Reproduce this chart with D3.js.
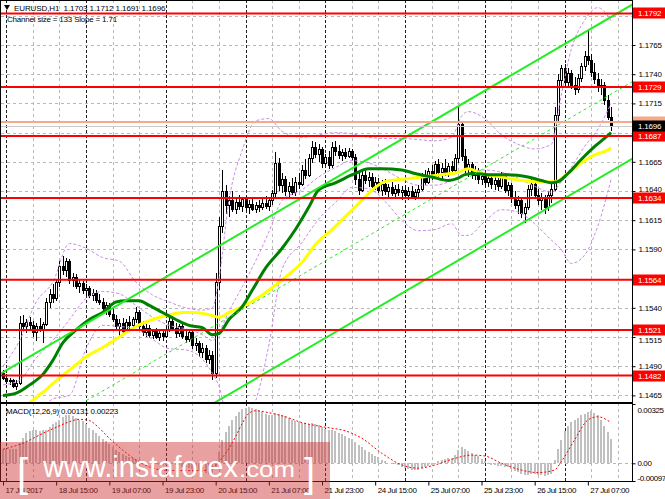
<!DOCTYPE html>
<html><head><meta charset="utf-8">
<script src="https://cdn.jsdelivr.net/npm/d3@7/dist/d3.min.js"></script>
<style>
html,body{margin:0;padding:0;background:#fff;}
svg{display:block;font-family:"Liberation Sans",Arial,sans-serif;}
</style></head><body>
<svg id="chart" width="665" height="499"></svg>
<script>
// ---------- DATA ----------
const symbolTitle = "EURUSD,H1  1.1703 1.1712 1.1691 1.1696";
const channelTitle = "Channel size = 133 Slope = 1.71";
const macdTitle = "MACD(12,26,9) 0.00131 0.00223";

// hourly candles [open, high, low, close], first bar = 17 Jul 23:00
const ohlc = [
[1.1484,1.1487,1.1478,1.1480],[1.1480,1.1483,1.1475,1.1477],[1.1477,1.1480,1.1474,1.1478],[1.1478,1.1479,1.1471,1.1473],
[1.1473,1.1478,1.1470,1.1476],[1.1476,1.1533,1.1474,1.1527],[1.1527,1.1534,1.1520,1.1524],[1.1524,1.1530,1.1518,1.1528],
[1.1528,1.1532,1.1522,1.1525],[1.1525,1.1529,1.1515,1.1519],[1.1519,1.1527,1.1512,1.1524],[1.1524,1.1531,1.1519,1.1522],
[1.1522,1.1528,1.1510,1.1526],[1.1526,1.1548,1.1524,1.1545],[1.1545,1.1556,1.1540,1.1552],[1.1552,1.1560,1.1544,1.1548],
[1.1548,1.1565,1.1546,1.1562],[1.1562,1.1580,1.1558,1.1576],[1.1576,1.1584,1.1568,1.1572],[1.1572,1.1583,1.1566,1.1580],
[1.1580,1.1582,1.1560,1.1564],[1.1564,1.1570,1.1558,1.1566],[1.1566,1.1569,1.1556,1.1559],[1.1559,1.1564,1.1553,1.1561],
[1.1561,1.1563,1.1552,1.1555],[1.1555,1.1560,1.1550,1.1557],[1.1557,1.1559,1.1548,1.1551],[1.1551,1.1556,1.1546,1.1553],
[1.1553,1.1555,1.1544,1.1547],[1.1547,1.1552,1.1542,1.1545],[1.1545,1.1548,1.1536,1.1540],[1.1540,1.1545,1.1534,1.1542],
[1.1542,1.1544,1.1532,1.1535],[1.1535,1.1540,1.1528,1.1530],[1.1530,1.1534,1.1520,1.1524],[1.1524,1.1530,1.1516,1.1527],
[1.1527,1.1531,1.1517,1.1520],[1.1520,1.1530,1.1518,1.1528],[1.1528,1.1533,1.1522,1.1525],[1.1525,1.1532,1.1521,1.1530],
[1.1530,1.1541,1.1527,1.1536],[1.1536,1.1538,1.1522,1.1524],[1.1524,1.1529,1.1516,1.1519],[1.1519,1.1526,1.1515,1.1523],
[1.1523,1.1525,1.1514,1.1517],[1.1517,1.1522,1.1513,1.1520],[1.1520,1.1523,1.1513,1.1515],[1.1515,1.1521,1.1512,1.1518],
[1.1518,1.1520,1.1512,1.1516],[1.1516,1.1524,1.1514,1.1521],[1.1521,1.1532,1.1519,1.1529],[1.1529,1.1533,1.1521,1.1523],
[1.1523,1.1527,1.1514,1.1518],[1.1518,1.1526,1.1515,1.1524],[1.1524,1.1528,1.1513,1.1516],[1.1516,1.1521,1.1510,1.1513],
[1.1513,1.1522,1.1511,1.1519],[1.1519,1.1521,1.1505,1.1508],[1.1508,1.1514,1.1503,1.1510],[1.1510,1.1512,1.1498,1.1502],
[1.1502,1.1510,1.1497,1.1506],[1.1506,1.1508,1.1493,1.1496],[1.1496,1.1504,1.1492,1.1500],[1.1500,1.1503,1.1478,1.1484],
[1.1484,1.1570,1.1480,1.1562],[1.1562,1.1618,1.1555,1.1610],[1.1610,1.1658,1.1604,1.1640],[1.1640,1.1645,1.1620,1.1628],
[1.1628,1.1636,1.1618,1.1632],[1.1632,1.1640,1.1622,1.1625],[1.1625,1.1634,1.1620,1.1631],[1.1631,1.1637,1.1624,1.1627],
[1.1627,1.1635,1.1622,1.1633],[1.1633,1.1636,1.1623,1.1626],[1.1626,1.1632,1.1620,1.1629],[1.1629,1.1633,1.1623,1.1625],
[1.1625,1.1631,1.1621,1.1628],[1.1628,1.1632,1.1622,1.1626],[1.1626,1.1633,1.1624,1.1630],[1.1630,1.1636,1.1625,1.1627],
[1.1627,1.1634,1.1623,1.1632],[1.1632,1.1641,1.1628,1.1638],[1.1638,1.1673,1.1635,1.1664],[1.1664,1.1668,1.1640,1.1645],
[1.1645,1.1655,1.1638,1.1650],[1.1650,1.1653,1.1636,1.1640],[1.1640,1.1648,1.1635,1.1644],[1.1644,1.1651,1.1637,1.1639],
[1.1639,1.1652,1.1636,1.1648],[1.1648,1.1655,1.1642,1.1646],[1.1646,1.1662,1.1644,1.1658],[1.1658,1.1667,1.1650,1.1654],
[1.1654,1.1672,1.1652,1.1668],[1.1668,1.1683,1.1664,1.1678],[1.1678,1.1682,1.1668,1.1672],[1.1672,1.1680,1.1665,1.1676],
[1.1676,1.1678,1.1660,1.1664],[1.1664,1.1672,1.1661,1.1669],[1.1669,1.1674,1.1659,1.1662],[1.1662,1.1682,1.1660,1.1678],
[1.1678,1.1683,1.1670,1.1674],[1.1674,1.1679,1.1667,1.1671],[1.1671,1.1676,1.1666,1.1673],[1.1673,1.1677,1.1667,1.1670],
[1.1670,1.1677,1.1668,1.1674],[1.1674,1.1676,1.1666,1.1669],[1.1669,1.1672,1.1645,1.1650],[1.1650,1.1655,1.1637,1.1641],
[1.1641,1.1658,1.1639,1.1654],[1.1654,1.1660,1.1646,1.1649],[1.1649,1.1656,1.1643,1.1652],[1.1652,1.1655,1.1640,1.1644],
[1.1644,1.1652,1.1641,1.1648],[1.1648,1.1651,1.1638,1.1641],[1.1641,1.1649,1.1636,1.1646],[1.1646,1.1650,1.1637,1.1640],
[1.1640,1.1646,1.1633,1.1643],[1.1643,1.1648,1.1636,1.1638],[1.1638,1.1645,1.1634,1.1642],[1.1642,1.1646,1.1636,1.1639],
[1.1639,1.1644,1.1632,1.1641],[1.1641,1.1645,1.1635,1.1637],[1.1637,1.1643,1.1632,1.1640],[1.1640,1.1644,1.1634,1.1636],
[1.1636,1.1642,1.1632,1.1639],[1.1639,1.1645,1.1635,1.1642],[1.1642,1.1655,1.1640,1.1652],[1.1652,1.1658,1.1645,1.1648],
[1.1648,1.1660,1.1646,1.1657],[1.1657,1.1662,1.1649,1.1653],[1.1653,1.1666,1.1651,1.1663],[1.1663,1.1667,1.1652,1.1656],
[1.1656,1.1664,1.1650,1.1660],[1.1660,1.1667,1.1653,1.1655],[1.1655,1.1664,1.1652,1.1661],[1.1661,1.1666,1.1654,1.1658],
[1.1658,1.1672,1.1655,1.1668],[1.1668,1.1712,1.1664,1.1697],[1.1697,1.1699,1.1666,1.1670],[1.1670,1.1676,1.1655,1.1660],
[1.1660,1.1667,1.1652,1.1663],[1.1663,1.1665,1.1650,1.1654],[1.1654,1.1661,1.1649,1.1658],[1.1658,1.1660,1.1646,1.1650],
[1.1650,1.1656,1.1645,1.1653],[1.1653,1.1655,1.1644,1.1648],[1.1648,1.1654,1.1643,1.1651],[1.1651,1.1653,1.1642,1.1646],
[1.1646,1.1652,1.1641,1.1649],[1.1649,1.1651,1.1640,1.1644],[1.1644,1.1656,1.1642,1.1653],[1.1653,1.1655,1.1638,1.1641],
[1.1641,1.1648,1.1636,1.1645],[1.1645,1.1647,1.1630,1.1634],[1.1634,1.1640,1.1625,1.1628],[1.1628,1.1636,1.1620,1.1632],
[1.1632,1.1634,1.1617,1.1621],[1.1621,1.1630,1.1613,1.1626],[1.1626,1.1645,1.1624,1.1642],[1.1642,1.1650,1.1636,1.1646],
[1.1646,1.1649,1.1633,1.1637],[1.1637,1.1642,1.1628,1.1632],[1.1632,1.1638,1.1624,1.1635],[1.1635,1.1637,1.1620,1.1626],
[1.1626,1.1640,1.1623,1.1637],[1.1637,1.1648,1.1630,1.1642],[1.1642,1.1712,1.1640,1.1705],[1.1705,1.1740,1.1700,1.1735],
[1.1735,1.1748,1.1728,1.1745],[1.1745,1.1749,1.1730,1.1733],[1.1733,1.1745,1.1728,1.1741],[1.1741,1.1744,1.1727,1.1731],
[1.1731,1.1738,1.1722,1.1727],[1.1727,1.1740,1.1724,1.1737],[1.1737,1.1750,1.1733,1.1747],[1.1747,1.1760,1.1743,1.1756],
[1.1756,1.1778,1.1748,1.1752],[1.1752,1.1757,1.1738,1.1742],[1.1742,1.1750,1.1732,1.1736],[1.1736,1.1741,1.1725,1.1729],
[1.1729,1.1736,1.1722,1.1731],[1.1731,1.1733,1.1714,1.1718],[1.1718,1.1722,1.1701,1.1703],[1.1703,1.1712,1.1691,1.1696]
];

// MACD main values (histogram), one per candle
const macdMain = [
0.00080,0.00079,0.00078,0.00077,0.00078,0.00110,0.00140,0.00165,0.00175,0.00180,0.00180,0.00178,0.00180,0.00185,
0.00200,0.00215,0.00225,0.00240,0.00255,0.00262,0.00265,0.00258,0.00250,0.00240,0.00230,0.00215,0.00195,0.00180,0.00165,
0.00150,0.00135,0.00120,0.00105,0.00090,0.00075,0.00060,0.00050,0.00042,0.00035,0.00030,0.00026,0.00020,0.00012,0.00006,
0.00002,-0.00002,-0.00005,-0.00008,-0.00010,-0.00010,-0.00005,-0.00006,-0.00010,-0.00012,-0.00018,-0.00022,
-0.00025,-0.00030,-0.00035,-0.00042,-0.00048,-0.00052,-0.00058,-0.00068,-0.00020,0.00060,0.00130,0.00170,
0.00205,0.00235,0.00260,0.00280,0.00295,0.00305,0.00310,0.00305,0.00298,0.00290,0.00280,0.00272,0.00265,
0.00262,0.00275,0.00272,0.00265,0.00258,0.00250,0.00240,0.00232,0.00226,0.00222,0.00220,0.00218,0.00222,0.00218,0.00210,
0.00200,0.00190,0.00185,0.00185,0.00175,0.00168,0.00160,0.00150,0.00140,0.00132,
0.00118,0.00100,0.00090,0.00075,0.00062,0.00050,0.00040,0.00032,0.00020,0.00010,0.00004,0.00000,
-0.00006,-0.00012,-0.00018,-0.00024,-0.00030,-0.00034,-0.00036,-0.00034,-0.00028,-0.00022,-0.00016,-0.00010,-0.00002,
0.00010,0.00018,0.00024,0.00028,0.00030,0.00045,0.00075,0.00090,0.00080,0.00070,0.00058,0.00048,0.00038,
0.00025,0.00012,0.00002,-0.00008,-0.00012,-0.00015,-0.00016,-0.00018,-0.00022,
-0.00030,-0.00040,-0.00050,-0.00058,-0.00064,-0.00062,-0.00058,-0.00060,-0.00064,-0.00066,-0.00068,-0.00062,-0.00058,
0.00020,0.00080,0.00130,0.00175,0.00205,0.00225,0.00238,0.00250,0.00262,0.00272,0.00282,0.00285,
0.00278,0.00262,0.00240,0.00205,0.00170,0.00131
];
// MACD signal line, read at [bar, value]
const macdSignal = [[0,0.00077],[6,0.00110],[12,0.00164],[16,0.00197],[20,0.00228],[23,0.00241],[26,0.00234],[29,0.00192],
[32,0.00137],[36,0.00073],[40,0.00018],[44,-0.00019],[48,-0.00037],[54,-0.00040],[60,-0.00040],[64,-0.00009],[67,0.00055],
[70,0.00146],[72,0.00219],[74,0.00274],[76,0.00288],[80,0.00277],[85,0.00255],[90,0.00223],[95,0.00204],[99,0.00192],
[102,0.00183],[108,0.00137],[114,0.00055],[120,-0.00009],[125,-0.00027],[130,-0.00009],[136,0.00027],[141,0.00045],
[145,0.00040],[150,0.00000],[156,-0.00037],[161,-0.00051],[166,-0.00037],[168,0.00009],[172,0.00128],[176,0.00237],
[179,0.00255],[183,0.00223]];

// moving averages read at [bar, price]
const maGreen = [[0,1.1465],[4,1.1467],[8,1.1474],[12,1.1483],[15,1.1495],[18,1.1510],[22,1.1521],[26,1.1530],[30,1.1536],
[34,1.1545],[37,1.1546],[41,1.1546],[44,1.1542],[48,1.1536],[52,1.1530],[56,1.1525],[60,1.1523],[63,1.1517],[65,1.1518],
[68,1.1530],[72,1.1541],[75,1.1555],[79,1.1574],[84,1.1591],[88,1.1607],[92,1.1626],[95,1.1641],[100,1.1647],[106,1.1655],
[110,1.1659],[114,1.1659],[120,1.1658],[124,1.1655],[129,1.1652],[134,1.1649],[137,1.1651],[139,1.1654],[142,1.1655],
[146,1.1654],[152,1.1654],[158,1.1652],[162,1.1649],[165,1.1647],[167,1.1648],[170,1.1655],[174,1.1667],[178,1.1678],
[181,1.1685],[183,1.1690]];
const maYellow = [[3,1.1448],[7,1.1456],[9,1.1461],[13,1.1470],[17,1.1480],[21,1.1489],[25,1.1498],[30,1.1506],[35,1.1515],
[40,1.1524],[45,1.1530],[50,1.1534],[54,1.1536],[58,1.1536],[62,1.1534],[65,1.1532],[68,1.1536],[72,1.1541],[78,1.1551],
[84,1.1564],[90,1.1579],[94,1.1594],[99,1.1607],[103,1.1618],[108,1.1632],[112,1.1643],[115,1.1648],[120,1.1650],
[126,1.1652],[132,1.1654],[137,1.1656],[140,1.1659],[144,1.1655],[150,1.1652],[156,1.1649],[162,1.1648],[166,1.1648],
[170,1.1655],[174,1.1664],[178,1.1671],[182,1.1675],[183,1.1677]];

// Bollinger bands read at these bars
const bandBars = [0,5,10,15,20,25,30,35,40,45,50,55,60,63,65,68,72,76,80,84,90,95,100,105,110,115,120,125,130,135,138,140,145,150,155,160,165,168,171,175,179,183];
const bandUpper = [1.1490,1.1512,1.1545,1.1562,1.1595,1.1591,1.1583,1.1580,1.1562,1.1551,1.1545,1.1540,1.1538,1.1540,1.1565,1.1632,1.1675,1.1700,1.1702,1.1691,1.1686,1.1688,1.1690,1.1689,1.1686,1.1685,1.1685,1.1684,1.1683,1.1686,1.1704,1.1708,1.1702,1.1688,1.1680,1.1676,1.1680,1.1722,1.1761,1.1786,1.1797,1.1786];
const bandMiddle = [1.1474,1.1478,1.1497,1.1512,1.1530,1.1548,1.1554,1.1552,1.1542,1.1532,1.1525,1.1522,1.1517,1.1512,1.1519,1.1537,1.1558,1.1580,1.1605,1.1632,1.1641,1.1652,1.1660,1.1666,1.1664,1.1658,1.1650,1.1645,1.1645,1.1649,1.1653,1.1655,1.1658,1.1656,1.1651,1.1644,1.1639,1.1648,1.1660,1.1678,1.1693,1.1715];
const bandLower = [1.1458,1.1444,1.1449,1.1462,1.1465,1.1505,1.1525,1.1524,1.1522,1.1513,1.1505,1.1504,1.1496,1.1484,1.1473,1.1442,1.1441,1.1460,1.1508,1.1573,1.1596,1.1616,1.1630,1.1643,1.1642,1.1631,1.1615,1.1606,1.1607,1.1612,1.1602,1.1602,1.1614,1.1624,1.1622,1.1612,1.1598,1.1590,1.1578,1.1585,1.1610,1.1650];

// regression channel (133 bars): middle line end points [bar, price] and half width
const channelStart = [50, 1.1502];
const channelEnd = [183, 1.1723];
const channelHalfWidth = 0.0066;

// horizontal levels
const levels = [1.1792, 1.1729, 1.1687, 1.1634, 1.1564, 1.1521, 1.1482];
const askPrice = 1.1699;
const bidPrice = 1.1696;

// axes
const priceTicks = [1.1465,1.1490,1.1515,1.1540,1.1565,1.1590,1.1615,1.1640,1.1665,1.1690,1.1715,1.1740,1.1765,1.1790];
const timeBars = [0,16,32,48,64,80,96,112,128,144,160,176];
const timeLabels = ["17 Jul 2017","18 Jul 15:00","19 Jul 07:00","19 Jul 23:00","20 Jul 15:00","21 Jul 07:00","21 Jul 23:00","24 Jul 15:00","25 Jul 07:00","25 Jul 23:00","26 Jul 15:00","27 Jul 07:00"];
const macdTicks = [0.00325, 0, -0.00097];
const macdTickLabels = ["0.00325","0.00","-0.00097"];

// ---------- DRAWING ----------
const svg = d3.select('#chart');
const PX = 632, MAIN_B = 402, MACD_T = 403, MACD_B = 481;
const x = d3.scaleLinear().domain([0, 183]).range([3, 3 + 183 * 3.323]);
const y = d3.scaleLinear().domain([1.1465, 1.1765]).range([395.4, 45]);
const ym = d3.scaleLinear().domain([-0.00097, 0.00325]).range([481, 404]);

const defs = svg.append('defs');
defs.append('clipPath').attr('id', 'cm').append('rect').attr('x', 1).attr('y', 1).attr('width', PX - 1).attr('height', MAIN_B - 1);
defs.append('clipPath').attr('id', 'cd').append('rect').attr('x', 1).attr('y', MACD_T + 1).attr('width', PX - 1).attr('height', MACD_B - MACD_T - 1);

const gm = svg.append('g').attr('clip-path', 'url(#cm)');
const gd = svg.append('g').attr('clip-path', 'url(#cd)');

// grid
const gridBars = d3.range(1, 189, 8);
[[gm, 0, MAIN_B], [gd, MACD_T, MACD_B]].forEach(([g, t, b]) => {
  g.selectAll('line.vg').data(gridBars).join('line').attr('class', 'vg')
    .attr('x1', d => Math.round(x(d)) + 0.5).attr('x2', d => Math.round(x(d)) + 0.5)
    .attr('y1', t).attr('y2', b)
    .attr('stroke', d => (d - 1) % 24 === 0 ? '#222' : '#b8b8b8')
    .attr('stroke-dasharray', d => (d - 1) % 24 === 0 ? '3,2' : '3,3')
    .attr('shape-rendering', 'crispEdges');
});
gm.selectAll('line.hg').data(priceTicks).join('line').attr('class', 'hg')
  .attr('x1', 1).attr('x2', PX).attr('y1', d => Math.round(y(d)) + 0.5).attr('y2', d => Math.round(y(d)) + 0.5)
  .attr('stroke', '#b8b8b8').attr('stroke-dasharray', '3,3').attr('shape-rendering', 'crispEdges');
gd.append('line').attr('x1', 1).attr('x2', PX).attr('y1', Math.round(ym(0)) + 0.5).attr('y2', Math.round(ym(0)) + 0.5)
  .attr('stroke', '#b8b8b8').attr('stroke-dasharray', '3,3').attr('shape-rendering', 'crispEdges');

// candles
const cg = gm.append('g').attr('shape-rendering', 'crispEdges');
cg.selectAll('line.wick').data(ohlc).join('line').attr('class', 'wick')
  .attr('x1', (d, i) => Math.round(x(i)) + 0.5).attr('x2', (d, i) => Math.round(x(i)) + 0.5)
  .attr('y1', d => y(d[1])).attr('y2', d => y(d[2])).attr('stroke', '#000');
cg.selectAll('rect.body').data(ohlc).join('rect').attr('class', 'body')
  .attr('x', (d, i) => Math.round(x(i)) - 0.5)
  .attr('y', d => Math.round(y(Math.max(d[0], d[3]))) + 0.5)
  .attr('width', 2)
  .attr('height', d => Math.max(0, Math.round(y(Math.min(d[0], d[3]))) - Math.round(y(Math.max(d[0], d[3])))))
  .attr('fill', d => d[3] >= d[0] ? '#fff' : '#000').attr('stroke', '#000');

// bands
const lineP = d3.line().x(d => x(d[0])).y(d => y(d[1])).curve(d3.curveMonotoneX);
[bandUpper, bandMiddle, bandLower].forEach(arr => {
  gm.append('path').datum(bandBars.map((b, k) => [b, arr[k]])).attr('d', lineP)
    .attr('fill', 'none').attr('stroke', '#cc8be6').attr('stroke-width', 1).attr('stroke-dasharray', '3,2');
});

// moving averages
gm.append('path').datum(maYellow).attr('d', lineP).attr('fill', 'none').attr('stroke', '#ffff00').attr('stroke-width', 3);
gm.append('path').datum(maGreen).attr('d', lineP).attr('fill', 'none').attr('stroke', '#008000').attr('stroke-width', 3);

// regression channel
const slope = (channelEnd[1] - channelStart[1]) / (channelEnd[0] - channelStart[0]);
const ext = [-3, 192];
const chan = off => ext.map(b => [b, channelStart[1] + (b - channelStart[0]) * slope + off]);
const straight = d3.line().x(d => x(d[0])).y(d => y(d[1]));
gm.append('path').datum(chan(0)).attr('d', straight).attr('stroke', '#22ee22').attr('stroke-width', 1).attr('stroke-dasharray', '3,3').attr('fill', 'none');
gm.append('path').datum(chan(channelHalfWidth)).attr('d', straight).attr('stroke', '#22ee22').attr('stroke-width', 2).attr('fill', 'none');
gm.append('path').datum(chan(-channelHalfWidth)).attr('d', straight).attr('stroke', '#22ee22').attr('stroke-width', 2).attr('fill', 'none');

// horizontal lines
gm.append('line').attr('x1', 1).attr('x2', PX).attr('y1', y(askPrice)).attr('y2', y(askPrice)).attr('stroke', '#f6a98a').attr('stroke-width', 2);
gm.append('line').attr('x1', 1).attr('x2', PX).attr('y1', Math.round(y(bidPrice)) + 0.5).attr('y2', Math.round(y(bidPrice)) + 0.5).attr('stroke', '#c8c8c8').attr('stroke-width', 1);
gm.selectAll('line.lvl').data(levels).join('line').attr('class', 'lvl')
  .attr('x1', 1).attr('x2', PX).attr('y1', d => y(d)).attr('y2', d => y(d)).attr('stroke', '#ff0000').attr('stroke-width', 2);

// MACD
gd.selectAll('rect.mh').data(macdMain).join('rect').attr('class', 'mh')
  .attr('x', (d, i) => Math.round(x(i)) - 1).attr('width', 2)
  .attr('y', d => Math.min(ym(d), ym(0))).attr('height', d => Math.abs(ym(d) - ym(0)))
  .attr('fill', '#c0c0c0').attr('shape-rendering', 'crispEdges');
gd.append('path').datum(macdSignal)
  .attr('d', d3.line().x(d => x(d[0])).y(d => ym(d[1])).curve(d3.curveMonotoneX))
  .attr('fill', 'none').attr('stroke', '#ff0000').attr('stroke-width', 1).attr('stroke-dasharray', '2,2');

// panel borders
svg.append('rect').attr('x', 0.5).attr('y', 0.5).attr('width', PX).attr('height', MAIN_B).attr('fill', 'none').attr('stroke', '#000').attr('shape-rendering', 'crispEdges');
svg.append('rect').attr('x', 0.5).attr('y', MACD_T + 0.5).attr('width', PX).attr('height', MACD_B - MACD_T).attr('fill', 'none').attr('stroke', '#000').attr('shape-rendering', 'crispEdges');

// price axis (labels under a level tag are hidden, labels next to one are nudged clear of it)
const tagged = levels.concat([bidPrice]);
const nudge = d => {
  let off = 0;
  tagged.forEach(v => {
    const gap = y(d) - y(v);
    if (Math.abs(gap) >= 5 && Math.abs(gap) < 9.5) off = (gap > 0 ? 1 : -1) * (9.5 - Math.abs(gap));
  });
  return off;
};
const pa = svg.append('g').attr('transform', `translate(${PX + 0.5},0)`)
  .call(d3.axisRight(y).tickValues(priceTicks).tickSize(3).tickPadding(3).tickFormat(d3.format('.4f')));
pa.select('.domain').remove();
pa.selectAll('line').attr('stroke', '#000');
pa.selectAll('text').attr('font-size', 8).attr('fill', '#000').attr('letter-spacing', '-0.2')
  .attr('y', d => nudge(d))
  .style('display', d => tagged.some(v => Math.abs(y(v) - y(d)) < 5) ? 'none' : null);

// level tags
const labG = svg.append('g');
function tag(v, bg, fg, txt) {
  const yy = Math.round(y(v));
  labG.append('rect').attr('x', PX + 1).attr('y', yy - 5.5).attr('width', 665 - PX - 1).attr('height', 11).attr('fill', bg);
  if (txt) labG.append('text').attr('x', PX + 6).attr('y', yy + 3).attr('font-size', 8).attr('letter-spacing', '-0.2').attr('fill', fg).text(txt);
}
tag(askPrice, '#f6a98a', '#fff', null);
levels.forEach(v => tag(v, '#ff0000', '#fff', d3.format('.4f')(v)));
tag(bidPrice, '#000', '#fff', d3.format('.4f')(bidPrice));

// macd axis
const ma = svg.append('g').attr('transform', `translate(${PX + 0.5},0)`)
  .call(d3.axisRight(ym).tickValues(macdTicks).tickSize(3).tickPadding(2).tickFormat((d, k) => macdTickLabels[k]));
ma.select('.domain').remove();
ma.selectAll('line').attr('stroke', '#000');
ma.selectAll('text').attr('font-size', 8).attr('fill', '#000').attr('letter-spacing', '-0.4')
  .attr('dy', (d, k) => k === 0 ? '1.05em' : (k === 2 ? '-0.05em' : '0.32em'));
svg.append('line').attr('x1', PX + 0.5).attr('x2', PX + 0.5).attr('y1', 0).attr('y2', MACD_B + 1).attr('stroke', '#000').attr('shape-rendering', 'crispEdges');

// time axis
const ta = svg.append('g').attr('transform', `translate(0,${MACD_B + 0.5})`)
  .call(d3.axisBottom(x).tickValues(timeBars).tickSize(4).tickPadding(2).tickFormat((d, k) => timeLabels[k]));
ta.select('.domain').remove();
ta.selectAll('line').attr('stroke', '#000');
ta.selectAll('text').attr('font-size', 8).attr('fill', '#000').attr('text-anchor', 'start').attr('x', 2).attr('letter-spacing', '-0.4');

// titles
svg.append('path').attr('d', 'M4,5 L10,5 L7,10 Z').attr('fill', '#000');
svg.append('text').attr('x', 14).attr('y', 10.5).attr('font-size', 8).attr('letter-spacing', '-0.1').attr('xml:space', 'preserve').style('white-space', 'pre').text(symbolTitle);
svg.append('text').attr('x', 7).attr('y', 22).attr('font-size', 8).attr('letter-spacing', '-0.2').text(channelTitle);
svg.append('text').attr('x', 6).attr('y', 413.5).attr('font-size', 8).attr('letter-spacing', '-0.2').text(macdTitle);

// watermark
const wm = svg.append('g');
wm.append('rect').attr('x', 0).attr('y', 442).attr('width', 330).attr('height', 57).attr('fill', 'rgb(204,44,44)').attr('fill-opacity', 0.45);
wm.append('text').attr('x', 17).attr('y', 487).attr('font-size', 40).attr('fill', '#fff').text('[');
wm.append('text').attr('x', 43).attr('y', 477).attr('font-size', 29).attr('fill', '#fff').attr('textLength', 195).attr('lengthAdjust', 'spacingAndGlyphs').text('www.instaforex');
wm.append('text').attr('x', 239).attr('y', 477).attr('font-size', 22).attr('fill', '#fff').attr('textLength', 56).attr('lengthAdjust', 'spacingAndGlyphs').text('.com');
wm.append('text').attr('x', 304).attr('y', 487).attr('font-size', 40).attr('fill', '#fff').text(']');
</script>
</body></html>
